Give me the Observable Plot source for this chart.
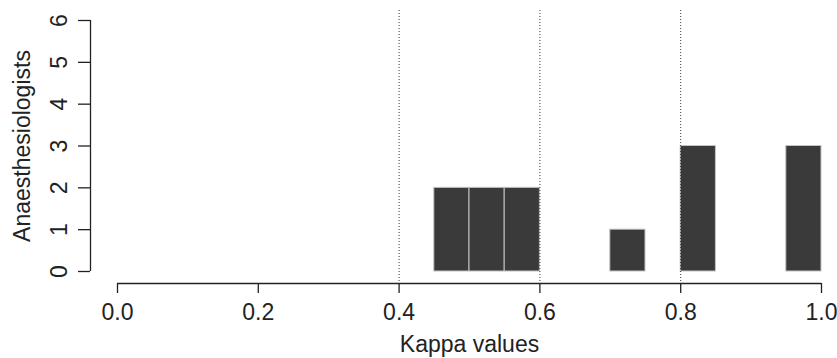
<!DOCTYPE html>
<html>
<head>
<meta charset="utf-8">
<script src="https://cdn.jsdelivr.net/npm/d3@7"></script>
<script src="https://cdn.jsdelivr.net/npm/@observablehq/plot@0.6"></script>
<style>
  html, body { margin: 0; padding: 0; background: #fff; }
  #chart { width: 837px; height: 358px; }
</style>
</head>
<body>
<div id="chart"></div>
<script>
// Histogram bins (lower edge), bin width and counts
const binLower = [0.45, 0.50, 0.55, 0.70, 0.80, 0.95];
const binWidth = 0.05;
const counts = [2, 2, 2, 1, 3, 3];
// Dotted reference lines
const refLines = [0.4, 0.6, 0.8];
// Axis ticks
const xTicks = [0, 0.2, 0.4, 0.6, 0.8, 1.0];
const yTicks = [0, 1, 2, 3, 4, 5, 6];
const xLabel = "Kappa values";
const yLabel = "Anaesthesiologists";

const bins = binLower.map((x1, i) => ({x1, x2: x1 + binWidth, count: counts[i]}));

const font = "'Liberation Sans', Arial, Helvetica, sans-serif";
const ink = "#222";

const chart = Plot.plot({
  width: 837,
  height: 358,
  marginLeft: 90,
  marginRight: 16,
  marginTop: 20,
  marginBottom: 75,
  style: {fontFamily: font, color: ink, background: "#fff"},
  x: {domain: [0, 1], range: [117, 821]},
  y: {domain: [0, 6], range: [271, 20]},
  marks: [
    Plot.rectY(bins, {x1: "x1", x2: "x2", y: "count", fill: "#3a3a3a", stroke: "#c4c4c4", strokeWidth: 1}),
    Plot.ruleX(refLines, {y1: -0.24, y2: 6.24, stroke: "#333", strokeWidth: 1, strokeDasharray: "1,2"}),
    // axis lines (offset from the data region, R style)
    Plot.ruleY([0], {x1: 0, x2: 1, dy: 12, stroke: ink, strokeWidth: 1.3}),
    Plot.ruleX([0], {y1: 0, y2: 6, dx: -27, stroke: ink, strokeWidth: 1.3}),
    Plot.axisX({anchor: "bottom", ticks: xTicks, tickSize: 10, tickPadding: 10, tickFormat: d3.format(".1f"), fontSize: 23, label: null, stroke: ink, strokeWidth: 1.3}),
    Plot.axisY({anchor: "left", ticks: yTicks, tickSize: 12, tickPadding: 12, tickRotate: -90, tickFormat: d3.format("d"), fontSize: 23, label: null, stroke: ink, strokeWidth: 1.3}),
    Plot.text([xLabel], {x: () => 0.5, frameAnchor: "bottom", dy: 68, text: d => d, fontSize: 23, fill: ink, textAnchor: "middle"}),
    Plot.text([yLabel], {y: () => 3, frameAnchor: "left", dx: -68, rotate: -90, text: d => d, fontSize: 23, fill: ink, textAnchor: "middle"})
  ]
});
document.getElementById("chart").appendChild(chart);
</script>
</body>
</html>
